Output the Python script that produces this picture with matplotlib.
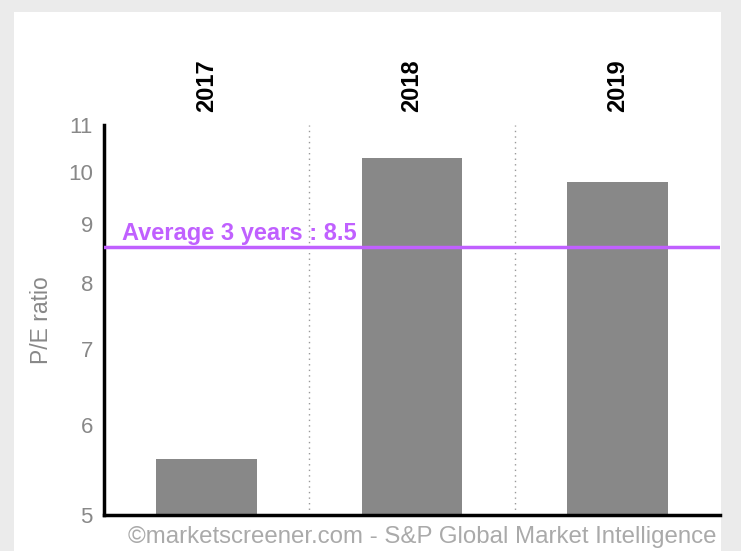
import matplotlib
matplotlib.use("Agg")
import matplotlib.pyplot as plt
from matplotlib.ticker import FixedLocator, NullLocator, FixedFormatter

plt.rcParams['font.family'] = ['Liberation Sans', 'DejaVu Sans']

years = ["2017", "2018", "2019"]
pe_values = [5.6, 10.3, 9.8]
average = 8.6
average_label = "Average 3 years : 8.5"
y_ticks = [5, 6, 7, 8, 9, 10, 11]
footer = "\u00a9marketscreener.com - S&P Global Market Intelligence"

fig = plt.figure(figsize=(7.41, 5.51), dpi=100)
fig.patch.set_facecolor('#ebebeb')
# white panel
panel = plt.Rectangle((14/741, 0), (721-14)/741, 1 - 12/551, transform=fig.transFigure,
                      facecolor='white', edgecolor='none', zorder=-10)
fig.patches.append(panel)

ax = fig.add_axes([104/741, 1 - 515/551, (720-104)/741, (515-125)/551])
ax.set_facecolor('none')
ax.set_yscale('log')
ax.set_ylim(5, 11)
ax.set_xlim(-0.5, len(years) - 0.5)

x = list(range(len(years)))
ax.bar(x, [v - 5 for v in pe_values], bottom=5, width=0.49, color='#888888', zorder=2)

ax.axhline(average, color='#c060ff', lw=2.5, zorder=3)
ax.annotate(average_label, xy=(-0.41, average), xytext=(0, 5), textcoords='offset points',
            color='#c060ff', fontsize=17, fontweight='bold', ha='left', va='baseline', zorder=4)

for i in range(1, len(years)):
    ax.axvline(i - 0.5, color='#999999', lw=1, ls=(0, (1, 3)), zorder=1)

ax.yaxis.set_major_locator(FixedLocator(y_ticks))
ax.yaxis.set_major_formatter(FixedFormatter([str(t) for t in y_ticks]))
ax.yaxis.set_minor_locator(NullLocator())
ax.tick_params(axis='y', length=0, pad=8, labelsize=16, labelcolor='#888888')
ax.set_ylabel("P/E ratio", color='#888888', fontsize=16.5, labelpad=11)

ax.xaxis.tick_top()
ax.set_xticks(x)
ax.set_xticklabels(years, rotation=90, fontweight='bold', fontsize=17, color='black')
ax.tick_params(axis='x', length=0, pad=9)

for s in ['top', 'right']:
    ax.spines[s].set_visible(False)
ax.spines['left'].set_linewidth(2.5)
ax.spines['bottom'].set_linewidth(2.5)

fig.text(716/741, 1 - 537/551, footer, color='#aaaaaa', fontsize=17.3,
         ha='right', va='center')

fig.savefig("out.png", dpi=100, facecolor=fig.get_facecolor())
